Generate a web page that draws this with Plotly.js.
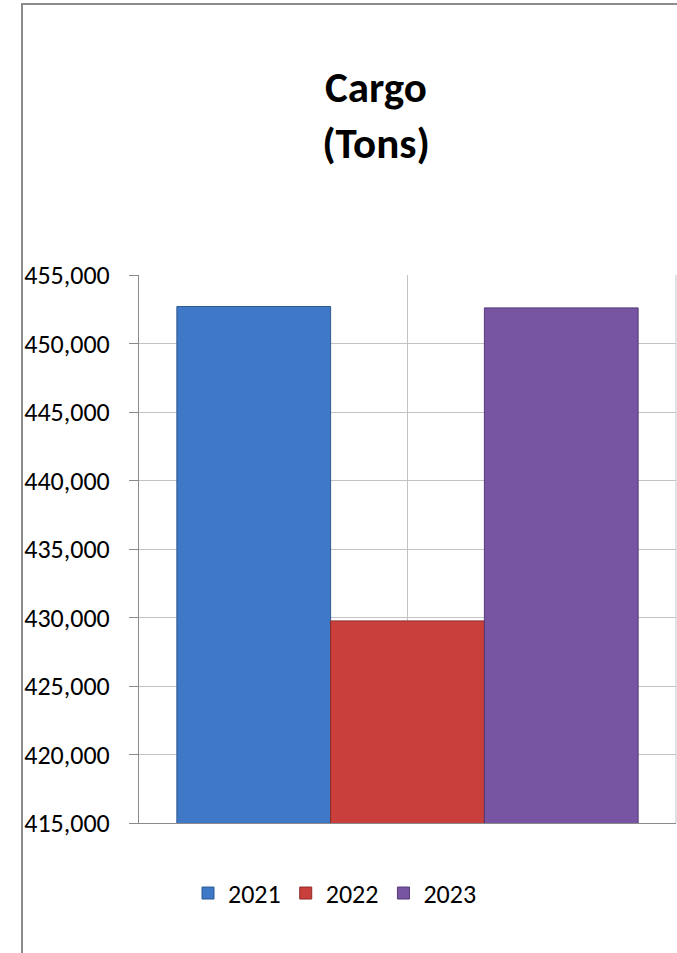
<!DOCTYPE html>
<html>
<head>
<meta charset="utf-8">
<script src="https://cdn.plot.ly/plotly-3.0.1.min.js"></script>
<style>
  html, body { margin: 0; padding: 0; background: #ffffff; }
  #wrap { position: relative; width: 677px; height: 953px; overflow: hidden; }
  #bl { position: absolute; left: 21px; top: 3px; width: 2px; height: 950px; background: #8c8c8c; }
  #bt { position: absolute; left: 21px; top: 3px; width: 656px; height: 2px; background: #8c8c8c; }
  #chart { position: absolute; left: 0; top: 0; width: 677px; height: 953px; }
</style>
</head>
<body>
<div id="wrap">
  <div id="bl"></div>
  <div id="bt"></div>
  <div id="chart"></div>
</div>
<script>
const category = ["Cargo"];
const seriesNames = ["2021", "2022", "2023"];
const values2021 = [452700];
const values2022 = [429750];
const values2023 = [452600];
const seriesValues = [values2021, values2022, values2023];
const yTickValues = [415000, 420000, 425000, 430000, 435000, 440000, 445000, 450000, 455000];

const fills = ["#3e78c6", "#c93f3b", "#7755a3"];
const edges = ["#2d5a94", "#8f2a28", "#553a78"];

const traces = seriesNames.map((name, i) => ({
  type: "bar",
  name: name,
  x: category,
  y: seriesValues[i],
  marker: { color: fills[i], line: { color: edges[i], width: 1 } },
  hoverinfo: "none"
}));

const font = "Carlito, Lato, 'Liberation Sans', sans-serif";

const layout = {
  width: 677,
  height: 953,
  margin: { l: 139, r: 1, t: 275, b: 130 },
  paper_bgcolor: "rgba(0,0,0,0)",
  plot_bgcolor: "rgba(0,0,0,0)",
  font: { family: font, color: "#000000", size: 26 },
  title: {
    text: "<b>Cargo<br>(Tons)</b>",
    font: { family: font, size: 43, color: "#000000" },
    x: 376 / 677,
    xanchor: "center",
    xref: "container",
    y: 1 - 102 / 953,
    yanchor: "middle",
    yref: "container"
  },
  barmode: "group",
  bargap: 0.141,
  bargroupgap: 0,
  xaxis: {
    type: "category",
    showticklabels: false,
    showgrid: true,
    gridcolor: "#c3c3c3",
    gridwidth: 1,
    showline: true,
    linecolor: "#8a8a8a",
    linewidth: 1,
    ticks: "",
    zeroline: false,
    fixedrange: true
  },
  yaxis: {
    range: [415000, 455000],
    tickvals: yTickValues,
    tickformat: ",",
    showgrid: true,
    gridcolor: "#c3c3c3",
    gridwidth: 1,
    showline: true,
    linecolor: "#8a8a8a",
    linewidth: 1,
    ticks: "outside",
    ticklen: 9,
    tickcolor: "#8a8a8a",
    ticklabelstandoff: 14,
    tickfont: { family: font, size: 26, color: "#000000" },
    zeroline: false,
    fixedrange: true
  },
  legend: {
    orientation: "h",
    x: 0.365,
    xanchor: "center",
    y: -0.128,
    yanchor: "middle",
    font: { family: font, size: 26, color: "#000000" },
    itemwidth: 30,
    bgcolor: "rgba(0,0,0,0)"
  },
  shapes: [
    { type: "line", xref: "paper", yref: "paper", x0: 1, x1: 1, y0: 0, y1: 1,
      line: { color: "#c3c3c3", width: 1 } }
  ],
  showlegend: true
};

Plotly.newPlot("chart", traces, layout, { staticPlot: true, displayModeBar: false });
</script>
</body>
</html>
